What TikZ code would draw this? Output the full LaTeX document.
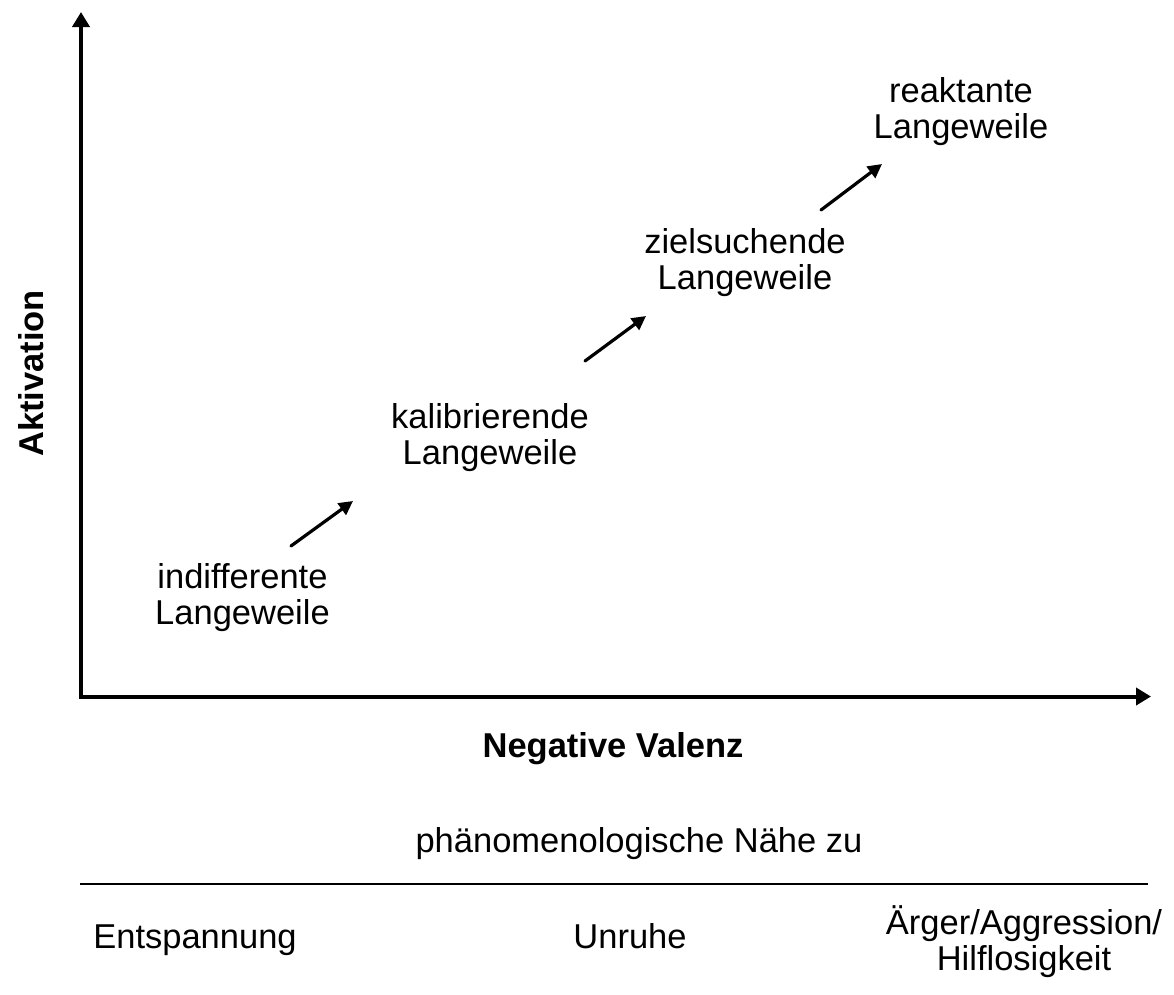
\documentclass[tikz,border=0pt]{standalone}
\usepackage{fontspec}
\setmainfont{Liberation Sans}
\usetikzlibrary{arrows.meta}
\begin{document}
\begin{tikzpicture}[x=1pt,y=-1pt,
  lbl/.style={font=\fontsize{34.5}{36}\selectfont, inner sep=0pt, anchor=base, align=center},
  boldlbl/.style={lbl, font=\fontsize{34.5}{36}\selectfont\bfseries},
  axis/.style={line width=4pt, line cap=rect, -{Triangle[width=17pt,length=15pt]}},
  stepto/.style={line width=3.2pt, line cap=round, -{Triangle[width=14pt,length=14pt]}},
  rule/.style={line width=2pt}]
  \useasboundingbox (0,0) rectangle (1174,994);

  % axes
  \coordinate (origin) at (81,696.5);
  \coordinate (ytop) at (81,12);
  \coordinate (xend) at (1151,696.5);
  \draw[axis] (origin) -- (ytop);
  \draw[axis] (origin) -- (xend);

  \node[boldlbl, rotate=90] (yname) at (43,373.5) {Aktivation};
  \node[boldlbl] (xname) at (613,757) {Negative Valenz};

  % stages of boredom (anchor on the baseline of the last line)
  \node[lbl] (indiff) at (242.5,624) {indifferente\\Langeweile};
  \node[lbl] (kalib) at (490,464) {kalibrierende\\Langeweile};
  \node[lbl] (ziel) at (745,289) {zielsuchende\\Langeweile};
  \node[lbl] (reakt) at (961,138) {reaktante\\Langeweile};

  \coordinate (a1) at (291,546);  \coordinate (b1) at (353,501);
  \coordinate (a2) at (585,361);  \coordinate (b2) at (646,316);
  \coordinate (a3) at (821,210);  \coordinate (b3) at (882,164);
  \draw[stepto] (a1) -- (b1);
  \draw[stepto] (a2) -- (b2);
  \draw[stepto] (a3) -- (b3);

  % phenomenological scale
  \node[lbl] (near) at (639,852) {phänomenologische Nähe zu};
  \coordinate (rl) at (80,884);
  \coordinate (rr) at (1148,884);
  \draw[rule] (rl) -- (rr);
  \node[lbl] (entsp) at (195,948) {Entspannung};
  \node[lbl] (unruhe) at (630,948) {Unruhe};
  \node[lbl] (aerger) at (1024,970) {Ärger/Aggression/\\Hilflosigkeit};
\end{tikzpicture}
\end{document}
